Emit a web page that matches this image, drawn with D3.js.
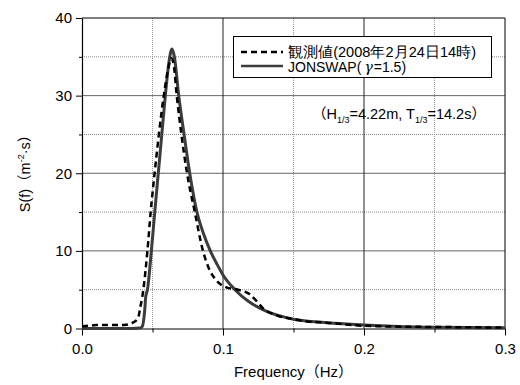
<!DOCTYPE html>
<html>
<head>
<meta charset="utf-8">
<script src="https://cdn.jsdelivr.net/npm/d3@7"></script>
<style>
  body { margin: 0; background: #fff; }
  svg text { font-family: "Liberation Sans", Arial, sans-serif; fill: #000; }
</style>
</head>
<body>
<svg id="chart"></svg>
<script>
// observed spectrum (dashed)
const obsFreq = [0, 0.005, 0.01, 0.02, 0.03, 0.035, 0.0397, 0.0414, 0.0428, 0.0435, 0.0464, 0.0487, 0.0515, 0.0545, 0.058, 0.0612, 0.0633, 0.065, 0.0672, 0.0705, 0.0745, 0.080, 0.0858, 0.0906, 0.0953, 0.1024, 0.1106, 0.119, 0.1235, 0.1284, 0.138, 0.15, 0.16, 0.1735, 0.185, 0.2, 0.22, 0.25, 0.28, 0.3];
const obsS    = [0.3, 0.35, 0.45, 0.45, 0.45, 0.67, 1.3, 2.8, 4.1, 5, 10, 15, 20, 25, 30, 33.5, 34.8, 34, 30, 25, 20, 15, 10, 7.5, 6.2, 5.3, 5.0, 4.4, 3.6, 2.6, 1.7, 1.2, 0.9, 0.75, 0.55, 0.35, 0.25, 0.2, 0.15, 0.12];

// JONSWAP fit (solid)
const jonFreq = [0, 0.02, 0.035, 0.041, 0.0427, 0.0445, 0.0452, 0.0464, 0.0492, 0.0516, 0.0541, 0.0566, 0.0591, 0.0618, 0.0638, 0.0655, 0.0686, 0.0724, 0.0764, 0.0815, 0.086, 0.091, 0.096, 0.1, 0.1085, 0.118, 0.131, 0.15, 0.17, 0.2, 0.22, 0.25, 0.3];
const jonS    = [0, 0, 0, 0.05, 0.25, 2.4, 4.1, 5, 10, 15, 20, 25, 30, 34.5, 36, 35, 30, 25, 20, 15, 12.3, 10, 8.2, 6.9, 5, 3.5, 2.2, 1.2, 0.8, 0.45, 0.3, 0.15, 0.1];

const xMajor = [0, 0.1, 0.2, 0.3];
const xMinor = [0.05, 0.15, 0.25];
const yMajor = [0, 10, 20, 30, 40];
const yMinor = [5, 15, 25, 35];

const legendLabels = ['観測値(2008年2月24日14時)', 'JONSWAP('];

const W = 520, H = 385;
const margin = {top: 18, right: 15, bottom: 56.5, left: 82};
const width = W - margin.left - margin.right;
const height = H - margin.top - margin.bottom;

const svg = d3.select('#chart').attr('width', W).attr('height', H);
const chart = svg.append('g').attr('transform', `translate(${margin.left},${margin.top})`);

const x = d3.scaleLinear().domain([0, 0.3]).range([0, width]);
const y = d3.scaleLinear().domain([0, 40]).range([height, 0]);

// grid lines
chart.append('g').selectAll('line').data(yMinor).join('line')
    .attr('x1', 0).attr('x2', width)
    .attr('y1', d => y(d)).attr('y2', d => y(d))
    .attr('stroke', '#888').attr('stroke-dasharray', '1,1');
chart.append('g').selectAll('line').data(xMinor).join('line')
    .attr('y1', 0).attr('y2', height)
    .attr('x1', d => x(d)).attr('x2', d => x(d))
    .attr('stroke', '#999').attr('stroke-dasharray', '1,1');
chart.append('g').selectAll('line').data(yMajor.slice(1, -1)).join('line')
    .attr('x1', 0).attr('x2', width)
    .attr('y1', d => y(d)).attr('y2', d => y(d))
    .attr('stroke', '#666');
chart.append('g').selectAll('line').data(xMajor.slice(1, -1)).join('line')
    .attr('y1', 0).attr('y2', height)
    .attr('x1', d => x(d)).attr('x2', d => x(d))
    .attr('stroke', '#222');

// frame top / right
chart.append('line').attr('x1', 0).attr('x2', width).attr('y1', 0).attr('y2', 0).attr('stroke', '#000');
chart.append('line').attr('x1', width).attr('x2', width).attr('y1', 0).attr('y2', height).attr('stroke', '#000');

// axes
const fmtX = d3.format('.1f');
chart.append('g').attr('transform', `translate(0,${height})`)
    .call(d3.axisBottom(x).tickValues(xMajor).tickSize(7).tickSizeOuter(0).tickFormat(fmtX).tickPadding(8));
chart.append('g').attr('transform', `translate(0,${height})`)
    .call(d3.axisBottom(x).tickValues(xMinor).tickSize(4).tickSizeOuter(0).tickFormat(''))
    .select('.domain').remove();
chart.append('g')
    .call(d3.axisLeft(y).tickValues(yMajor).tickSize(6).tickSizeOuter(0).tickPadding(4));
chart.append('g')
    .call(d3.axisLeft(y).tickValues(yMinor).tickSize(3).tickSizeOuter(0).tickFormat(''))
    .select('.domain').remove();

chart.selectAll('.domain').attr('stroke', '#000').attr('stroke-width', 1.2);
chart.selectAll('.tick line').attr('stroke', '#000');
chart.selectAll('.tick text').attr('font-size', 15).attr('font-family', '"Liberation Sans", Arial, sans-serif');

// curves
const line = d3.line().x(d => x(d[0])).y(d => y(d[1])).curve(d3.curveMonotoneX);

chart.append('path')
    .datum(jonFreq.map((f, i) => [f, jonS[i]]))
    .attr('fill', 'none').attr('stroke', '#3c3c3c').attr('stroke-width', 3)
    .attr('d', line);

chart.append('path')
    .datum(obsFreq.map((f, i) => [f, obsS[i]]))
    .attr('fill', 'none').attr('stroke', '#000').attr('stroke-width', 2.5)
    .attr('stroke-dasharray', '6,4')
    .attr('d', line);

// legend
const leg = svg.append('g');
leg.append('rect').attr('x', 233.5).attr('y', 36.5).attr('width', 258).attr('height', 41)
    .attr('fill', '#fff').attr('stroke', '#000');
leg.append('line').attr('x1', 241).attr('x2', 283).attr('y1', 52).attr('y2', 52)
    .attr('stroke', '#000').attr('stroke-width', 2.5).attr('stroke-dasharray', '6,4');
leg.append('line').attr('x1', 241).attr('x2', 283).attr('y1', 66).attr('y2', 66)
    .attr('stroke', '#3c3c3c').attr('stroke-width', 2.5);
leg.append('text').attr('x', 288).attr('y', 57).attr('font-size', 14.5)
    .attr('font-family', '"Noto Sans CJK JP", "Liberation Sans", sans-serif')
    .attr('textLength', 188).attr('lengthAdjust', 'spacingAndGlyphs')
    .text(legendLabels[0]);
const t2 = leg.append('text').attr('x', 288).attr('y', 71.5).attr('font-size', 14);
t2.append('tspan').text(legendLabels[1]);
t2.append('tspan').attr('dx', 3).attr('font-style', 'italic').attr('font-family', '"DejaVu Serif", serif').text('γ');
t2.append('tspan').attr('dx', 1).text('=1.5)');

// significant wave annotation
const ann = svg.append('text').attr('x', 312).attr('y', 119).attr('font-size', 14.5);
ann.append('tspan').attr('font-family', '"Noto Sans CJK JP", sans-serif').text('（');
ann.append('tspan').text('H');
ann.append('tspan').attr('font-size', 9).attr('dy', 4).text('1/3');
ann.append('tspan').attr('dy', -4).text('=4.22m, T');
ann.append('tspan').attr('font-size', 9).attr('dy', 4).text('1/3');
ann.append('tspan').attr('dy', -4).text('=14.2s');
ann.append('tspan').attr('font-family', '"Noto Sans CJK JP", sans-serif').text('）');

// axis titles
const xt = svg.append('text').attr('x', margin.left + width / 2).attr('y', 377)
    .attr('text-anchor', 'middle').attr('font-size', 15);
xt.append('tspan').text('Frequency');
xt.append('tspan').attr('font-family', '"Noto Sans CJK JP", sans-serif').text('（');
xt.append('tspan').text('Hz');
xt.append('tspan').attr('font-family', '"Noto Sans CJK JP", sans-serif').text('）');

const yt = svg.append('text').attr('transform', 'translate(30,170) rotate(-90)')
    .attr('text-anchor', 'middle').attr('font-size', 14.5);
yt.append('tspan').text('S(f)');
yt.append('tspan').attr('font-family', '"Noto Sans CJK JP", sans-serif').text('（');
yt.append('tspan').text('m');
yt.append('tspan').attr('font-size', 9).attr('dy', -6).text('-2');
yt.append('tspan').attr('dy', 6).text('·s');
yt.append('tspan').attr('font-family', '"Noto Sans CJK JP", sans-serif').text('）');
</script>
</body>
</html>
